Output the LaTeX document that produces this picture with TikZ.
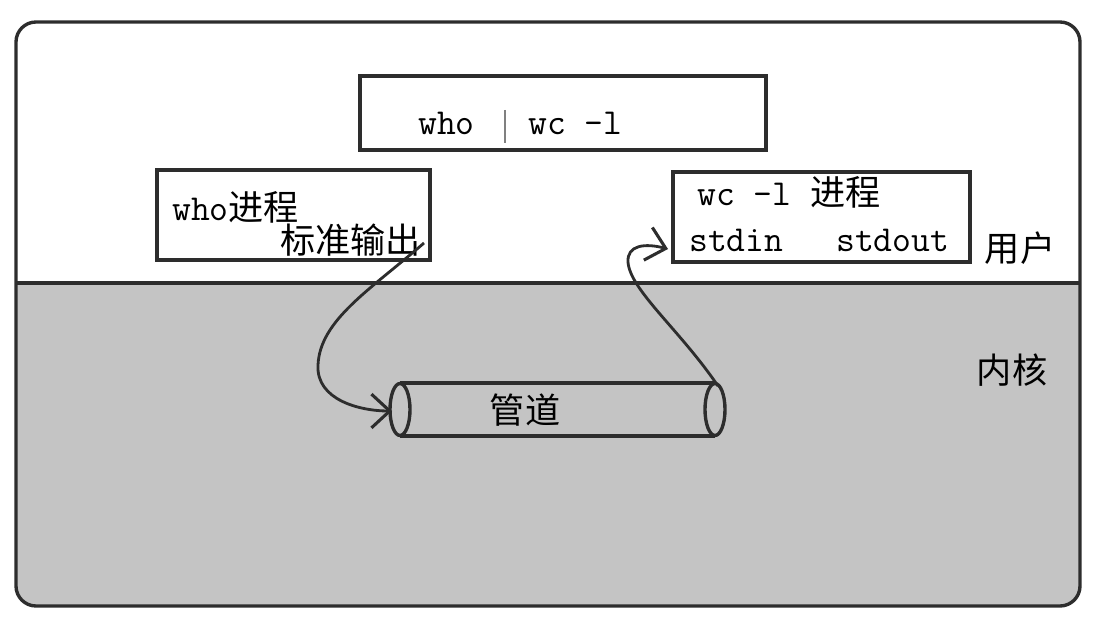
\documentclass[tikz,border=0pt]{standalone}
\usepackage{fontspec}
\newfontfamily\cjk{Noto Sans CJK SC}
\usetikzlibrary{arrows.meta}
\definecolor{kgray}{RGB}{196,196,196}
\definecolor{ink}{RGB}{45,45,45}
\begin{document}
\begin{tikzpicture}[x=0.025cm,y=-0.025cm,
  boxframe/.style={draw=ink, line width=2.3pt, fill=white, inner sep=0pt},
  txt/.style={inner sep=0pt, anchor=base west, font=\fontsize{26}{30}\selectfont},
  lbl/.style={inner sep=0pt, font=\cjk\fontsize{25}{30}\selectfont},
  flow/.style={draw=ink, line width=2pt, -{Straight Barb[length=13pt,width=24pt,line width=2.2pt]}}]
\useasboundingbox (0,0) rectangle (1116,636);
% outer frame
\begin{scope}
  \clip[rounded corners=0.5cm] (16,22) rectangle (1080,606);
  \fill[kgray] (0,283) rectangle (1116,636);
\end{scope}
\draw[ink, line width=2.4pt, rounded corners=0.5cm] (16,22) rectangle (1080,606);
\coordinate (divL) at (16,283);
\coordinate (divR) at (1080,283);
\draw[ink, line width=2.2pt] (divL) -- (divR);
% top command box
\node[boxframe, minimum width=10.15cm, minimum height=1.85cm] (cmd) at (563,113) {};
\node[txt] (cmdwho) at (418,135) {\ttfamily who};
\coordinate (barT) at (505,110);
\coordinate (barB) at (505,143);
\draw[gray, line width=0.9pt] (barT) -- (barB);
\node[txt] (cmdwc) at (528,135) {\ttfamily wc -l};
% who process box
\node[boxframe, minimum width=6.825cm, minimum height=2.25cm] (who) at (293.5,215) {};
\node[txt] (whotext) at (172,221) {\ttfamily who\cjk\fontsize{25}{30}\selectfont 进程};
\node[txt] (stdoutlbl) at (280,254) {\cjk\fontsize{25}{30}\selectfont 标准输出};
% wc process box
\node[boxframe, minimum width=7.425cm, minimum height=2.25cm] (wc) at (821.5,217) {};
\node[txt] (wctext) at (697,206) {\ttfamily wc -l \cjk\fontsize{25}{30}\selectfont 进程};
\node[txt] (stdin) at (689,252) {\ttfamily stdin};
\node[txt] (stdout) at (836,252) {\ttfamily stdout};
% region labels
\node[lbl] (user) at (1020,248) {用户};
\node[lbl] (kernel) at (1012,370) {内核};
% pipe
\coordinate (pTL) at (400,383);
\coordinate (pTR) at (715,383);
\coordinate (pBL) at (400,436);
\coordinate (pBR) at (715,436);
\draw[ink, line width=2.2pt] (pTL) -- (pTR);
\draw[ink, line width=2.2pt] (pBL) -- (pBR);
\coordinate (pL) at (400,409.5);
\coordinate (pR) at (715,409.5);
\draw[ink, line width=2.4pt, fill=kgray] (pL) ellipse [x radius=10, y radius=-26];
\draw[ink, line width=2.4pt, fill=kgray] (pR) ellipse [x radius=10, y radius=-26];
\node[lbl] (pipe) at (525,410) {管道};
% connectors
\coordinate (outStart) at (424,243);
\coordinate (outMid) at (318,365);
\coordinate (pipeIn) at (392,411);
\draw[flow] (outStart) .. controls (370,290) and (320,320) .. (outMid)
  .. controls (316,400) and (360,411) .. (pipeIn);
\coordinate (pipeOut) at (718,386);
\coordinate (inMid) at (628,262);
\coordinate (inEnd) at (668,249);
\draw[flow] (pipeOut) .. controls (680,330) and (630,290) .. (inMid)
  .. controls (627,245) and (645,243) .. (inEnd);
\end{tikzpicture}
\end{document}
